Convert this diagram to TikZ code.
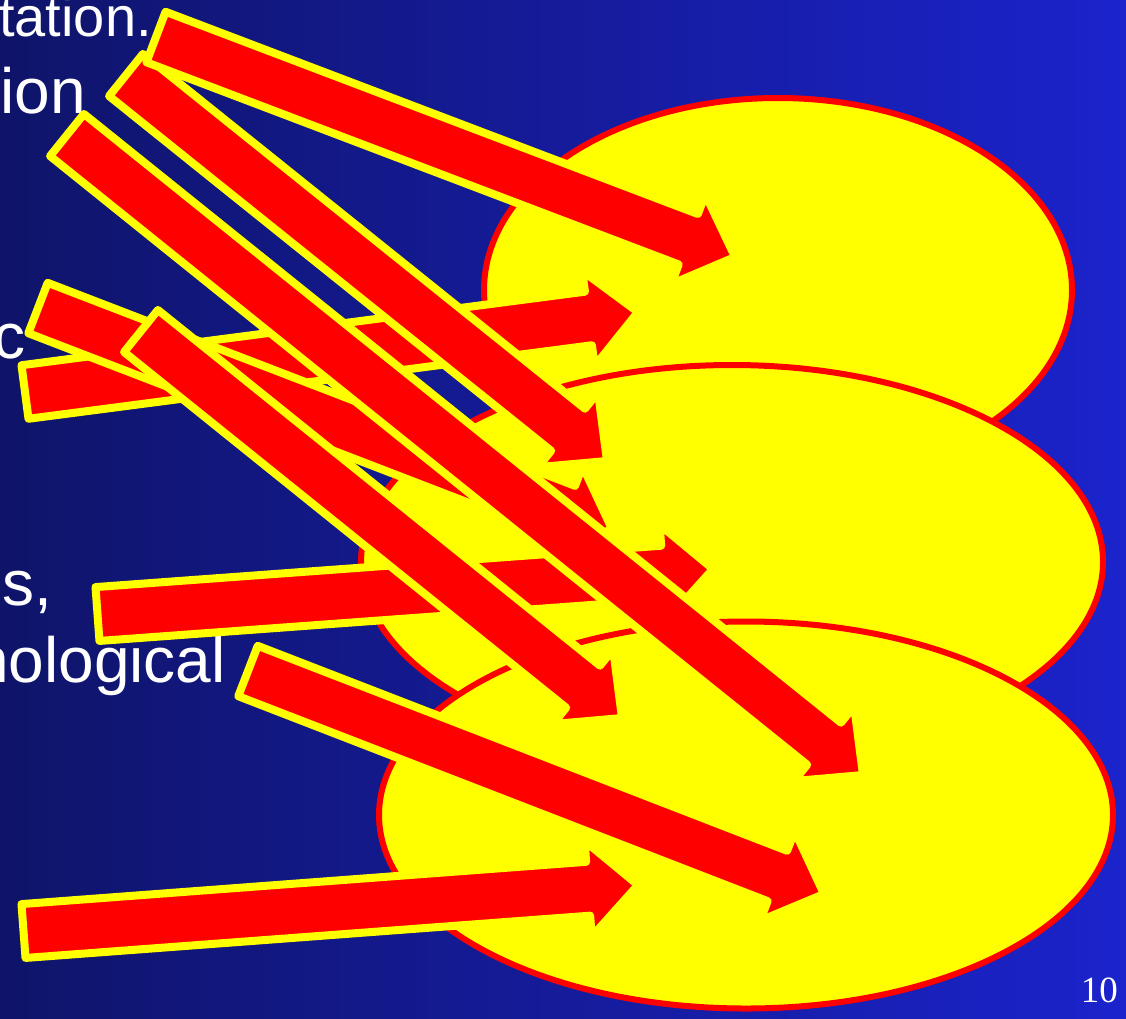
\documentclass[tikz,border=0pt]{standalone}
\usepackage{fontspec}
\setmainfont{Liberation Sans}
\newfontfamily\slidenumfont{Liberation Serif}
\usetikzlibrary{calc,shapes.geometric}
\definecolor{slidedark}{HTML}{0F1469}
\definecolor{slidebright}{HTML}{1B23CC}
\definecolor{arrowred}{HTML}{FF0000}
\definecolor{arrowedge}{HTML}{FFFF00}
\tikzset{
  blob/.style     ={ellipse, draw=arrowred, fill=arrowedge, line width=6pt,
                    inner sep=0pt},
  bigarrow/.style ={draw=arrowedge, fill=arrowred, line width=8pt,
                    line join=round},
  slidetext/.style={text=white, inner sep=0pt,
                    font=\fontsize{64}{77}\selectfont},
  slidenum/.style ={text=white, inner sep=0pt,
                    font=\slidenumfont\fontsize{37}{40}\selectfont},
}
\newcommand{\blockarrow}[2]{%
  \coordinate (#1neck) at ($(#2)!50pt!(#1)$);
  \draw[bigarrow] ($(#1)!27pt!90:(#2)$) -- ($(#1neck)!27pt!90:(#2)$)
    -- ($(#1neck)!48pt!90:(#2)$) -- (#2) -- ($(#1neck)!48pt!-90:(#2)$)
    -- ($(#1neck)!27pt!-90:(#2)$) -- ($(#1)!27pt!-90:(#2)$) -- cycle;%
}

\begin{document}
\begin{tikzpicture}[x=1pt,y=-1pt]
  \useasboundingbox (0,0) rectangle (1126,1018);
  \clip (0,0) rectangle (1126,1018);
  \shade[left color=slidedark, right color=slidebright] (0,0) rectangle (1126,1018);

  \node[slidetext, anchor=base west, font=\fontsize{56}{77}\selectfont]
    (line1) at (-1,36) {tation.};
  \node[slidetext, anchor=base east] (line2) at (86,113) {ion};
  \node[slidetext, anchor=base east] (line3) at (26,358) {c};
  \node[slidetext, anchor=base west] (line4) at (2,605) {s,};
  \node[slidetext, anchor=base east] (line5) at (226,682) {hological};

  \node[blob, minimum width=588pt, minimum height=384pt] (topblob) at (778,290) {};
  \node[blob, minimum width=742pt, minimum height=394pt] (midblob) at (732,562) {};
  \node[blob, minimum width=734pt, minimum height=387pt] (lowblob) at (746,815) {};

  % tail x / tail y / tip x / tip y, in drawing order
  \foreach [count=\k] \tx/\ty/\px/\py in {25/392/638/312, 38/308/612/529,
      126/75/607/461, 156/37/735/257, 97.5/614/713/569, 141/331/622/718,
      67/135/863/775, 248/671/824/894, 23.5/931/638/885} {
    \coordinate (tail\k) at (\tx,\ty);
    \coordinate (tip\k) at (\px,\py);
    \blockarrow{tail\k}{tip\k}
  }

  \node[slidenum, anchor=base east] (pagenum) at (1118,1002) {10};
\end{tikzpicture}
\end{document}
